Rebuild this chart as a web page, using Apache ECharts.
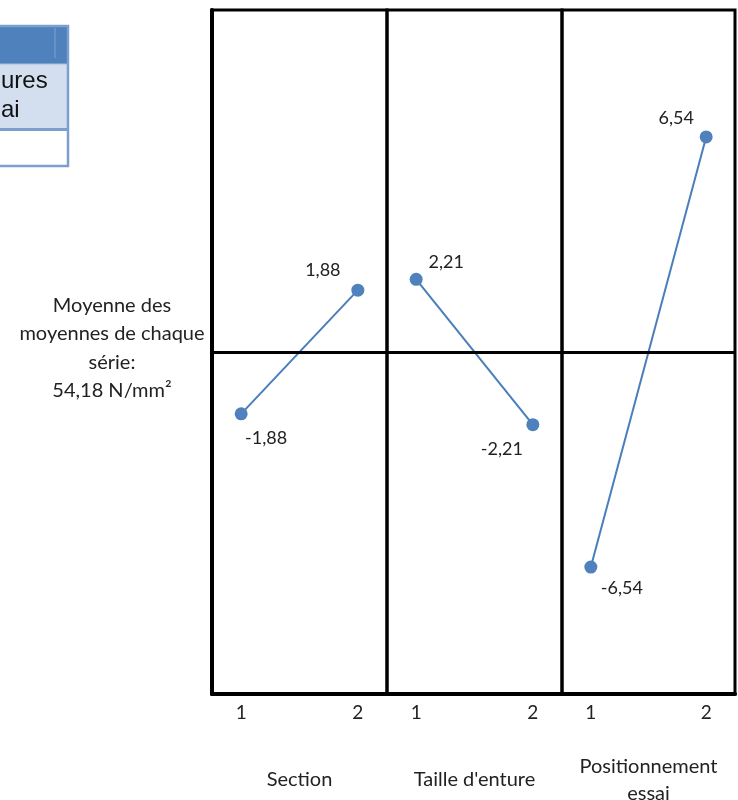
<!DOCTYPE html>
<html>
<head>
<meta charset="utf-8">
<script src="https://cdn.jsdelivr.net/npm/echarts@6/dist/echarts.min.js"></script>
<style>
html,body{margin:0;padding:0;background:#fff;}
#chart{width:738px;height:800px;}
</style>
</head>
<body>
<div id="chart"></div>
<script>
// ---- data ----
const factors = ['Section', "Taille d'enture", 'Positionnement\nessai'];
const levels = [1, 2];
const sectionValues = [-1.88, 1.88];
const tailleValues = [2.21, -2.21];
const positionValues = [-6.54, 6.54];
const grandMeanText = ['Moyenne des', 'moyennes de chaque', 'série:', '54,18 N/mm²'];
const tableFragment = ['ures', 'ai'];

const seriesValues = [sectionValues, tailleValues, positionValues];

// ---- layout / style ----
const FONT = 'Lato, "Open Sans", sans-serif';
const gridLefts = [212, 387, 562];
const gridWidths = [175, 175, 173];
const gridTop = 10, gridHeight = 684;
const labelOffsets = [
  [[25, 24], [-35, -20]],
  [[30, -17], [-31, 25]],
  [[31, 21], [-30, -19]]
];
const fmt = v => v.toFixed(2).replace('.', ',');

const chart = echarts.init(document.getElementById('chart'), null, {renderer: 'canvas'});

const grids = [], xAxes = [], yAxes = [], series = [];
for (let i = 0; i < 3; i++) {
  grids.push({left: gridLefts[i], width: gridWidths[i], top: gridTop, height: gridHeight,
    show: true, borderColor: '#000', borderWidth: 3, backgroundColor: 'transparent',
    containLabel: false, outerBoundsMode: 'none'});
  xAxes.push({
    type: 'value', gridIndex: i, min: 0.75, max: 2.25, interval: 0.25,
    axisLine: {show: true, onZero: false, lineStyle: {color: '#000', width: 4}},
    axisTick: {show: false}, splitLine: {show: false},
    axisLabel: {margin: 9, color: '#222', fontSize: 19, fontFamily: FONT,
      formatter: v => (levels.indexOf(v) >= 0 ? String(v) : '')},
    name: factors[i], nameLocation: 'middle', nameGap: 86,
    nameTextStyle: {color: '#222', fontSize: 20, fontFamily: FONT, lineHeight: 27, verticalAlign: 'middle'}
  });
  yAxes.push({
    type: 'value', gridIndex: i, min: -10.4, max: 10.4,
    axisLine: {show: i === 0, lineStyle: {color: '#000', width: 4}},
    axisTick: {show: false}, axisLabel: {show: false}, splitLine: {show: false}
  });
  series.push({
    type: 'line', xAxisIndex: i, yAxisIndex: i,
    data: levels.map((l, j) => ({
      value: [l, seriesValues[i][j]],
      label: {offset: labelOffsets[i][j]}
    })),
    symbol: 'circle', symbolSize: 13,
    lineStyle: {color: '#4A7EBB', width: 2},
    itemStyle: {color: '#4F81BD'},
    label: {show: true, position: 'inside', color: '#222', fontSize: 18, fontFamily: FONT,
      formatter: p => fmt(p.value[1])},
    markLine: {silent: true, symbol: ['none', 'none'], label: {show: false},
      lineStyle: {color: '#000', width: 3, type: 'solid'},
      data: [{yAxis: 0}]},
    z: 3
  });
}

chart.setOption({
  backgroundColor: '#fff',
  animation: false,
  grid: grids, xAxis: xAxes, yAxis: yAxes, series: series,
  graphic: [
    // fragment of a table at the top-left corner
    {type: 'rect', shape: {x: 0, y: 27, width: 68, height: 37}, style: {fill: '#4F81BD'}},
    {type: 'rect', shape: {x: 0, y: 64, width: 68, height: 65}, style: {fill: '#D3DFEE'}},
    {type: 'rect', shape: {x: 0, y: 129, width: 68, height: 37}, style: {fill: '#fff'}},
    {type: 'line', shape: {x1: 55, y1: 28, x2: 55, y2: 58}, style: {stroke: '#7FA3D1', lineWidth: 1}},
    {type: 'line', shape: {x1: 0, y1: 129.5, x2: 68, y2: 129.5}, style: {stroke: '#7BA0CF', lineWidth: 3}},
    {type: 'line', shape: {x1: 0, y1: 64, x2: 68, y2: 64}, style: {stroke: '#A8C0E0', lineWidth: 1}},
    {type: 'rect', shape: {x: -5, y: 26, width: 73, height: 140}, style: {fill: 'none', stroke: '#7BA0CF', lineWidth: 2.5}},
    {type: 'text', x: 1, y: 81, style: {text: tableFragment[0], font: '24px "Liberation Sans", Arial, sans-serif', fill: '#111', verticalAlign: 'middle'}},
    {type: 'text', x: 1, y: 110, style: {text: tableFragment[1], font: '24px "Liberation Sans", Arial, sans-serif', fill: '#111', verticalAlign: 'middle'}},
    // grand mean note on the left
    {type: 'text', x: 112, y: 348, style: {text: grandMeanText.join('\n'), fontSize: 20, fontFamily: FONT,
      lineHeight: 28.5, align: 'center', verticalAlign: 'middle', fill: '#222'}}
  ]
});
</script>
</body>
</html>
